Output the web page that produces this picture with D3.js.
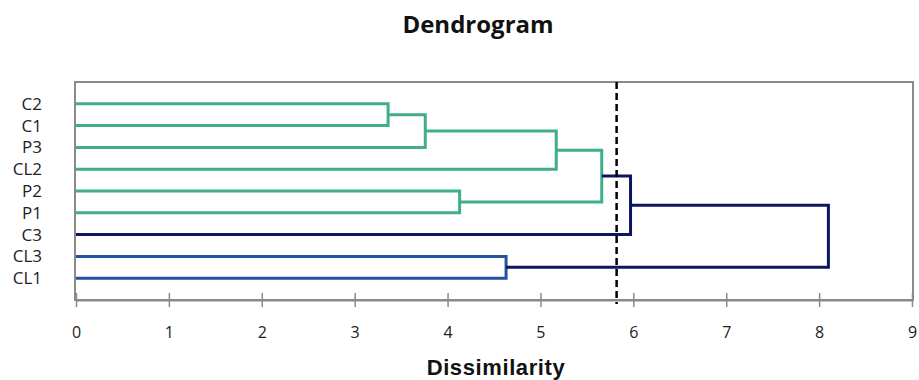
<!DOCTYPE html>
<html>
<head>
<meta charset="utf-8">
<script src="https://cdn.jsdelivr.net/npm/d3@7/dist/d3.min.js"></script>
<style>
  html, body { margin: 0; padding: 0; background: #fff; }
  svg { display: block; }
</style>
</head>
<body>
<svg id="chart" width="919" height="380"></svg>
<script>
// ---- data ----
const leaves = ["C2", "C1", "P3", "CL2", "P2", "P1", "C3", "CL3", "CL1"];
// merges: [left child, right child, dissimilarity]; children are leaf names or merge ids "m0".."m7"
const mergeLeft   = ["C2", "m0", "m1", "P2", "m2", "m4", "CL3", "m5"];
const mergeRight  = ["C1", "P3", "CL2", "P1", "m3", "C3", "CL1", "m6"];
const mergeHeight = [3.36, 3.76, 5.17, 4.13, 5.66, 5.97, 4.63, 8.10];
const mergeGroup  = ["g", "g", "g", "g", "g", "n", "b", "n"];
const xTicks = [0, 1, 2, 3, 4, 5, 6, 7, 8, 9];
const cutLevel = 5.82;
const title = "Dendrogram";
const xTitle = "Dissimilarity";

// ---- styles ----
const groupColor = { g: "#3fae8a", b: "#2451a2", n: "#0c165e" };
const svg = d3.select("#chart");
const plot = { left: 75, right: 913, top: 82, bottom: 300 };

const x = d3.scaleLinear().domain([0, 9]).range([76, 912]);
const y = d3.scaleLinear().domain([0, leaves.length + 1]).range([82, 300]);

// build node positions
const pos = {};
leaves.forEach((l, i) => { pos[l] = { x: x(0), y: y(i + 1) }; });
mergeHeight.forEach((h, i) => {
  const a = pos[mergeLeft[i]], b = pos[mergeRight[i]];
  pos["m" + i] = { x: x(h), y: (a.y + b.y) / 2 };
});

// title
svg.append("text")
  .attr("x", 478).attr("y", 33)
  .attr("text-anchor", "middle")
  .attr("font-family", "'Open Sans', sans-serif")
  .attr("font-weight", "bold")
  .attr("font-size", 24)
  .attr("fill", "#111")
  .text(title);

// plot border
svg.append("rect")
  .attr("x", plot.left).attr("y", plot.top)
  .attr("width", plot.right - plot.left).attr("height", plot.bottom - plot.top)
  .attr("fill", "none").attr("stroke", "#8a8a8a").attr("stroke-width", 2);

// x axis
const axis = d3.axisBottom(x).tickValues(xTicks).tickSize(0).tickPadding(0);
const gAxis = svg.append("g").attr("transform", `translate(0,${plot.bottom})`).call(axis);
gAxis.select(".domain").attr("stroke", "#8a8a8a").attr("stroke-width", 2);
gAxis.selectAll(".tick line").remove();
gAxis.selectAll(".tick").append("line")
  .attr("y1", -7).attr("y2", 7)
  .attr("stroke", "#8a8a8a").attr("stroke-width", 1.5);
gAxis.selectAll(".tick text")
  .attr("y", 38).attr("dy", 0)
  .attr("font-family", "'Open Sans', sans-serif")
  .attr("font-size", 16)
  .attr("fill", "#222");

// axis title
svg.append("text")
  .attr("x", 496).attr("y", 375)
  .attr("text-anchor", "middle")
  .attr("font-family", "'Liberation Sans', Arial, sans-serif")
  .attr("font-weight", "bold")
  .attr("font-size", 22)
  .attr("letter-spacing", 0.6)
  .attr("fill", "#111")
  .text(xTitle);

// leaf labels
svg.append("g").selectAll("text").data(leaves).join("text")
  .attr("x", 42).attr("y", (d, i) => y(i + 1))
  .attr("dy", "0.35em")
  .attr("text-anchor", "end")
  .attr("font-family", "'Open Sans', sans-serif")
  .attr("font-size", 17)
  .attr("fill", "#222")
  .text(d => d);

// dendrogram links
const gLinks = svg.append("g").attr("fill", "none").attr("stroke-width", 3).attr("stroke-linejoin", "miter");
mergeHeight.forEach((h, i) => {
  const a = pos[mergeLeft[i]], b = pos[mergeRight[i]], m = pos["m" + i];
  gLinks.append("path")
    .attr("d", `M${a.x},${a.y}H${m.x}V${b.y}H${b.x}`)
    .attr("stroke", groupColor[mergeGroup[i]]);
});

// cut line
svg.append("line")
  .attr("x1", x(cutLevel)).attr("x2", x(cutLevel))
  .attr("y1", plot.top).attr("y2", plot.bottom + 4)
  .attr("stroke", "#000").attr("stroke-width", 2.5)
  .attr("stroke-dasharray", "7,4");
</script>
</body>
</html>
